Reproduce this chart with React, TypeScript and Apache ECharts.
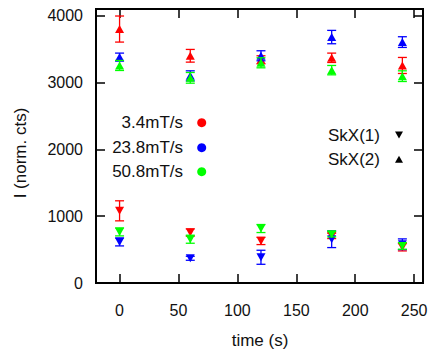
import React, { useEffect, useRef } from "react";
import * as echarts from "echarts";

const times = [0, 60, 120, 180, 240];
const xTicks = [0, 50, 100, 150, 200, 250];
const yTicks = [0, 1000, 2000, 3000, 4000];

// SkX(2) – upward triangles
const skx2Red = [3800, 3400, 3340, 3370, 3255];
const skx2RedErr = [195, 95, 60, 70, 120];
const skx2Blue = [3380, 3100, 3400, 3680, 3605];
const skx2BlueErr = [60, 75, 75, 100, 80];
const skx2Green = [3255, 3070, 3295, 3185, 3095];
const skx2GreenErr = [75, 80, 75, 70, 80];

// SkX(1) – downward triangles
const skx1Red = [1080, 755, 630, 705, 535];
const skx1RedErr = [150, 55, 55, 40, 55];
const skx1Blue = [615, 370, 385, 655, 580];
const skx1BlueErr = [60, 30, 105, 125, 80];
const skx1Green = [765, 655, 815, 730, 555];
const skx1GreenErr = [60, 60, 60, 40, 50];

const rateLabels = ["3.4mT/s", "23.8mT/s", "50.8mT/s"];
const rateColors = ["#ff0000", "#0000ff", "#00ff00"];
const phaseLabels = ["SkX(1)", "SkX(2)"];

const FONT = "Liberation Sans, Arial, Helvetica, sans-serif";

function errSeries(vals: number[], errs: number[], color: string, up: boolean) {
  return {
    type: "custom",
    xAxisIndex: 0,
    yAxisIndex: 0,
    data: times.map((t, i) => [t, vals[i], errs[i]]),
    encode: { x: 0, y: 1 },
    renderItem: (params: any, api: any) => {
      const x = api.value(0);
      const y = api.value(1);
      const e = api.value(2);
      const p = api.coord([x, y]);
      const lo = api.coord([x, y - e]);
      const hi = api.coord([x, y + e]);
      const cw = 4.5;
      const hw = 4.5;
      const hh = 4;
      const tri = up
        ? [[p[0] - hw, p[1] + hh], [p[0] + hw, p[1] + hh], [p[0], p[1] - hh]]
        : [[p[0] - hw, p[1] - hh], [p[0] + hw, p[1] - hh], [p[0], p[1] + hh]];
      const ls = { stroke: color, lineWidth: 1.3 };
      return {
        type: "group",
        children: [
          { type: "line", shape: { x1: p[0], y1: lo[1], x2: p[0], y2: hi[1] }, style: ls },
          { type: "line", shape: { x1: p[0] - cw, y1: lo[1], x2: p[0] + cw, y2: lo[1] }, style: ls },
          { type: "line", shape: { x1: p[0] - cw, y1: hi[1], x2: p[0] + cw, y2: hi[1] }, style: ls },
          { type: "polygon", shape: { points: tri }, style: { fill: color } },
        ],
      };
    },
  };
}

export default function App() {
  const ref = useRef<HTMLDivElement>(null);
  useEffect(() => {
    document.body.style.margin = "0";
    if (!ref.current) return;
    const chart = echarts.init(ref.current, undefined, { renderer: "svg" });
    const tickStyle = { color: "#000", width: 1.5 };
    const legendGraphics: any[] = [];
    const rateY = [122.7, 147.7, 171.7];
    rateLabels.forEach((lab, i) => {
      legendGraphics.push({
        type: "text",
        x: 183,
        y: rateY[i],
        style: { text: lab, fill: "#111", font: `17px ${FONT}`, textAlign: "right", textVerticalAlign: "middle" },
      });
      legendGraphics.push({
        type: "circle",
        shape: { cx: 201.7, cy: rateY[i], r: 4.5 },
        style: { fill: rateColors[i] },
      });
    });
    const phaseY = [135, 159.3];
    phaseLabels.forEach((lab, i) => {
      legendGraphics.push({
        type: "text",
        x: 380,
        y: phaseY[i],
        style: { text: lab, fill: "#111", font: `17px ${FONT}`, textAlign: "right", textVerticalAlign: "middle" },
      });
      const cx = 399;
      const cy = phaseY[i];
      const pts =
        i === 0
          ? [[cx - 4, cy - 3.5], [cx + 4, cy - 3.5], [cx, cy + 3.5]]
          : [[cx - 4, cy + 3.5], [cx + 4, cy + 3.5], [cx, cy - 3.5]];
      legendGraphics.push({ type: "polygon", shape: { points: pts }, style: { fill: "#000" } });
    });
    legendGraphics.push({
      type: "text",
      x: 20.5,
      y: 153,
      rotation: Math.PI / 2,
      style: { text: "I (norm. cts)", fill: "#111", font: `17px ${FONT}`, textAlign: "center", textVerticalAlign: "middle" },
    });
    legendGraphics.push({
      type: "text",
      x: 260,
      y: 340,
      style: { text: "time (s)", fill: "#111", font: `17px ${FONT}`, textAlign: "center", textVerticalAlign: "middle" },
    });

    const fmt = (v: number) => String(v);
    const hiddenLine = { show: false, onZero: false };

    chart.setOption({
      animation: false,
      grid: { left: 96, right: 9, top: 9, bottom: 68, show: true, borderColor: "#000", borderWidth: 2, backgroundColor: "transparent" },
      xAxis: [
        {
          type: "value",
          position: "bottom",
          min: -20,
          max: 257.5,
          axisLine: hiddenLine,
          splitLine: { show: false },
          axisTick: { show: true, inside: true, length: 9, lineStyle: tickStyle, customValues: xTicks },
          axisLabel: { customValues: xTicks, formatter: fmt, margin: 19, color: "#111", fontSize: 16, fontFamily: FONT },
        },
        {
          type: "value",
          position: "top",
          min: -20,
          max: 257.5,
          axisLine: hiddenLine,
          splitLine: { show: false },
          axisTick: { show: true, inside: true, length: 9, lineStyle: tickStyle, customValues: xTicks },
          axisLabel: { show: false },
        },
      ],
      yAxis: [
        {
          type: "value",
          position: "left",
          min: 0,
          max: 4100,
          axisLine: hiddenLine,
          splitLine: { show: false },
          axisTick: { show: true, inside: true, length: 9, lineStyle: tickStyle, customValues: yTicks },
          axisLabel: { customValues: yTicks, formatter: fmt, margin: 13, color: "#111", fontSize: 16, fontFamily: FONT },
        },
        {
          type: "value",
          position: "right",
          min: 0,
          max: 4100,
          axisLine: hiddenLine,
          splitLine: { show: false },
          axisTick: { show: true, inside: true, length: 9, lineStyle: tickStyle, customValues: yTicks },
          axisLabel: { show: false },
        },
      ],
      graphic: legendGraphics,
      series: [
        errSeries(skx1Red, skx1RedErr, rateColors[0], false),
        errSeries(skx1Blue, skx1BlueErr, rateColors[1], false),
        errSeries(skx1Green, skx1GreenErr, rateColors[2], false),
        errSeries(skx2Red, skx2RedErr, rateColors[0], true),
        errSeries(skx2Blue, skx2BlueErr, rateColors[1], true),
        errSeries(skx2Green, skx2GreenErr, rateColors[2], true),
      ],
    });
    return () => chart.dispose();
  }, []);
  return <div ref={ref} style={{ width: 432, height: 351 }} />;
}
